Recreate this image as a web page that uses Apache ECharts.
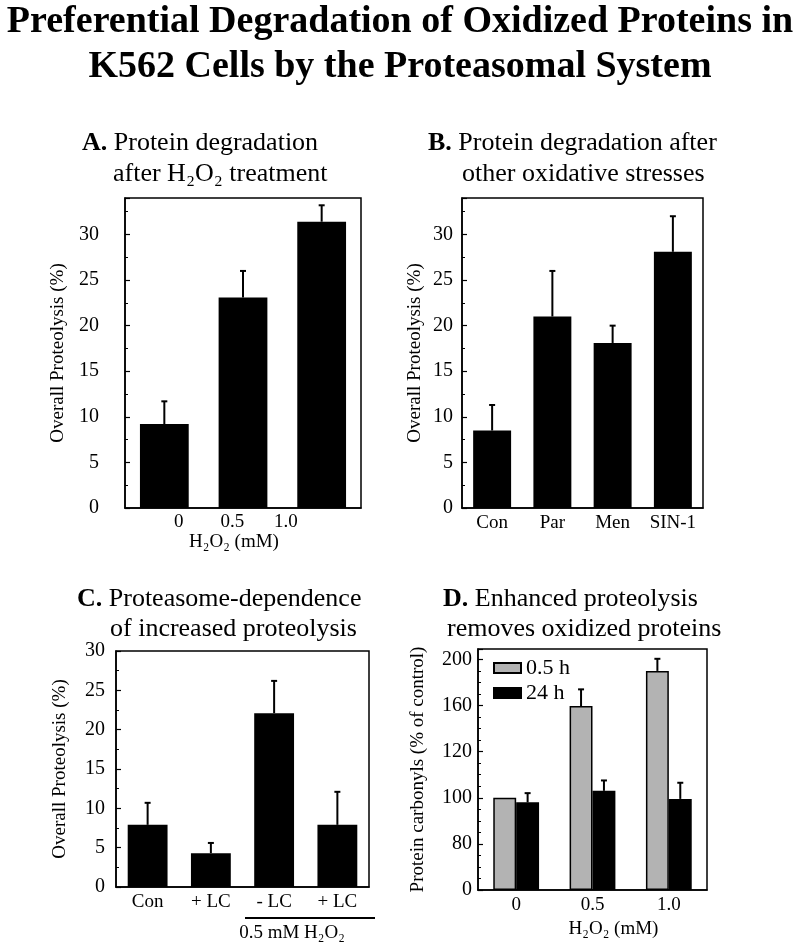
<!DOCTYPE html>
<html><head><meta charset="utf-8">
<script src="https://cdn.jsdelivr.net/npm/echarts@6/dist/echarts.min.js"></script>
<style>html,body{margin:0;padding:0;background:#fff}#c{width:800px;height:949px}</style>
</head><body><div id="c"></div>
<script>
const FONT = '"Liberation Serif", "Times New Roman", serif';

// ---- Panel A: H2O2 treatment ----
const aCategories = ['0', '0.5', '1.0'];
const aValues = [9.2, 23.1, 31.4];
const aErrors = [2.5, 2.9, 1.8];
const aConcTicks = [0, 0.5, 1];
const aConcLabels = ['0', '0.5', '1.0'];
// ---- Panel B: other oxidative stresses ----
const bCategories = ['Con', 'Par', 'Men', 'SIN-1'];
const bValues = [8.5, 21.0, 18.1, 28.1];
const bErrors = [2.8, 5.0, 1.9, 3.9];
// ---- Panel C: proteasome dependence ----
const cCategories = ['Con', '+ LC', '- LC', '+ LC'];
const cValues = [7.9, 4.3, 22.1, 7.9];
const cErrors = [2.8, 1.3, 4.1, 4.2];
// ---- Panel D: protein carbonyls ----
const dCategories = ['0', '0.5', '1.0'];
const dSeriesNames = ['0.5 h', '24 h'];
const dValues05h = [100, 159.5, 190];
const dErrors05h = [0, 14.5, 10.5];
const dValues24h = [98, 103, 99.5];
const dErrors24h = [4, 4.5, 7];
const dTickLabels = [0, 80, 100, 120, 160, 200];

// Panel D's printed axis is piecewise (equally spaced ticks with uneven values)
function dPos(v) {
  const t = dTickLabels;
  for (let i = 0; i < t.length - 1; i++) {
    if (v <= t[i + 1]) return i + (v - t[i]) / (t[i + 1] - t[i]);
  }
  const n = t.length - 1;
  return n + (v - t[n]) / (t[n] - t[n - 1]);
}

function errSeries(xi, yi, bases, tops, offsetFrac) {
  return {
    type: 'custom', xAxisIndex: xi, yAxisIndex: yi, silent: true, z: 5,
    data: bases.map((b, i) => [i, b, tops[i]]),
    renderItem(params, api) {
      const bw = api.size([1, 0])[0];
      const base = api.coord([api.value(0), api.value(1)]);
      const top = api.coord([api.value(0), api.value(2)]);
      const x = base[0] + bw * offsetFrac;
      if (Math.abs(top[1] - base[1]) < 0.5) return null;
      return { type: 'group', children: [
        { type: 'line', shape: { x1: x, y1: base[1], x2: x, y2: top[1] }, style: { stroke: '#000', lineWidth: 2 } },
        { type: 'line', shape: { x1: x - 3, y1: top[1], x2: x + 3, y2: top[1] }, style: { stroke: '#000', lineWidth: 2 } }
      ]};
    }
  };
}

const lab = { fontFamily: FONT, fontSize: 19, color: '#000' };
const tickLab = { fontFamily: FONT, fontSize: 20, color: '#000' };

function yAx(grid, max, interval, minorSplit, name, nameGap, margin, formatter) {
  return {
    type: 'value', gridIndex: grid, min: 0, max: max, interval: interval,
    name: name, nameLocation: 'middle', nameGap: nameGap, nameRotate: 90,
    nameTextStyle: Object.assign({}, lab),
    axisLine: { show: true, onZero: false, lineStyle: { color: '#000', width: 1.5 } },
    axisTick: { show: true, inside: true, length: 5, lineStyle: { color: '#000', width: 1.2 } },
    minorTick: { show: true, splitNumber: minorSplit, length: 3, lineStyle: { color: '#000', width: 1 } },
    splitLine: { show: false }, minorSplitLine: { show: false },
    axisLabel: Object.assign({ margin: margin, formatter: formatter }, tickLab)
  };
}
function xCat(grid, data, showLabel, margin) {
  return {
    type: 'category', gridIndex: grid, data: data,
    axisLine: { show: true, onZero: false, lineStyle: { color: '#000', width: 1.5 } },
    axisTick: { show: false },
    axisLabel: Object.assign({ show: showLabel, margin: margin, interval: 0 }, lab)
  };
}
const fmt5 = v => (Math.abs(v % 5) < 1e-9 ? String(v) : '');

const gridBase = { show: true, borderColor: '#000', borderWidth: 1.5, backgroundColor: 'transparent', containLabel: false, outerBoundsMode: 'none' };

const sub = {
  b: { fontFamily: FONT, fontSize: 26, fontWeight: 'bold', lineHeight: 30, color: '#000' },
  n: { fontFamily: FONT, fontSize: 26, fontWeight: 'normal', lineHeight: 30, color: '#000' }
};
const subPlain = { fontFamily: FONT, fontSize: 26, fontWeight: 'normal', lineHeight: 30, color: '#000' };

const option = {
  animation: false,
  backgroundColor: '#fff',
  title: [
    { text: 'Preferential Degradation of Oxidized Proteins in\nK562 Cells by the Proteasomal System', left: 'center', top: 0, padding: 0,
      textStyle: { fontFamily: FONT, fontSize: 38, fontWeight: 'bold', lineHeight: 45, color: '#000' } },
    { text: '{b|A.}{n| Protein degradation}', left: 82, top: 128, padding: 0, textStyle: { fontWeight: 'normal', rich: sub } },
    { text: 'after H₂O₂ treatment', left: 113, top: 159, padding: 0, textStyle: subPlain },
    { text: '{b|B.}{n| Protein degradation after}', left: 428, top: 128, padding: 0, textStyle: { fontWeight: 'normal', rich: sub } },
    { text: 'other oxidative stresses', left: 462, top: 159, padding: 0, textStyle: subPlain },
    { text: '{b|C.}{n| Proteasome-dependence}', left: 77, top: 584, padding: 0, textStyle: { fontWeight: 'normal', rich: sub } },
    { text: 'of increased proteolysis', left: 110, top: 614, padding: 0, textStyle: subPlain },
    { text: '{b|D.}{n| Enhanced proteolysis}', left: 443, top: 584, padding: 0, textStyle: { fontWeight: 'normal', rich: sub } },
    { text: 'removes oxidized proteins', left: 447, top: 614, padding: 0, textStyle: subPlain }
  ],
  legend: {
    data: dSeriesNames, orient: 'vertical', left: 493, top: 657, padding: 0,
    itemWidth: 27, itemHeight: 10, itemGap: 3, icon: 'rect',
    textStyle: { fontFamily: FONT, fontSize: 22, lineHeight: 22, color: '#000' },
    selectedMode: false
  },
  grid: [
    Object.assign({ left: 125, top: 198, width: 236, height: 310 }, gridBase),
    Object.assign({ left: 462, top: 198, width: 241, height: 310 }, gridBase),
    Object.assign({ left: 116, top: 651, width: 253, height: 236 }, gridBase),
    Object.assign({ left: 478, top: 649, width: 229, height: 241 }, gridBase)
  ],
  xAxis: [
    xCat(0, aCategories, false, 5),
    { type: 'value', gridIndex: 0, position: 'bottom', min: -0.5, max: 1.7, interval: 0.5,
      axisLine: { show: false, onZero: false }, axisTick: { show: false }, splitLine: { show: false },
      axisLabel: Object.assign({ margin: 5, showMinLabel: true, showMaxLabel: false,
        formatter: v => { const i = aConcTicks.findIndex(t => Math.abs(t - v) < 1e-6); return i >= 0 ? aConcLabels[i] : ''; } }, lab),
      name: 'H₂O₂ (mM)', nameLocation: 'middle', nameGap: 25,
      nameTextStyle: Object.assign({ padding: [0, 18, 0, 0] }, lab) },
    xCat(1, bCategories, true, 6),
    xCat(2, cCategories, true, 6),
    Object.assign(xCat(3, dCategories, true, 6), {
      name: 'H₂O₂ (mM)', nameLocation: 'middle', nameGap: 30,
      nameTextStyle: Object.assign({ padding: [0, 0, 0, 42] }, lab) })
  ],
  yAxis: [
    yAx(0, 34, 5, 2, 'Overall Proteolysis (%)', 57, 26, fmt5),
    yAx(1, 34, 5, 2, 'Overall Proteolysis (%)', 37, 9, fmt5),
    yAx(2, 30, 5, 2, 'Overall Proteolysis (%)', 46, 11, fmt5),
    yAx(3, dPos(209), 1, 4, 'Protein carbonyls (% of control)', 50, 6,
      v => (Math.abs(v - Math.round(v)) < 1e-6 && dTickLabels[Math.round(v)] !== undefined) ? String(dTickLabels[Math.round(v)]) : '')
  ],
  graphic: [
    { type: 'line', shape: { x1: 245, y1: 918, x2: 375, y2: 918 }, style: { stroke: '#000', lineWidth: 2 } },
    { type: 'text', x: 292, y: 933, style: { text: '0.5 mM H₂O₂', font: '19px ' + FONT, fill: '#000', align: 'center', verticalAlign: 'middle' } }
  ],
  series: [
    { type: 'bar', xAxisIndex: 0, yAxisIndex: 0, data: aValues, barCategoryGap: '38%', itemStyle: { color: '#000' } },
    errSeries(0, 0, aValues, aValues.map((v, i) => v + aErrors[i]), 0),
    { type: 'bar', xAxisIndex: 2, yAxisIndex: 1, data: bValues, barCategoryGap: '37%', itemStyle: { color: '#000' } },
    errSeries(2, 1, bValues, bValues.map((v, i) => v + bErrors[i]), 0),
    { type: 'bar', xAxisIndex: 3, yAxisIndex: 2, data: cValues, barCategoryGap: '37%', itemStyle: { color: '#000' } },
    errSeries(3, 2, cValues, cValues.map((v, i) => v + cErrors[i]), 0),
    { type: 'bar', name: dSeriesNames[0], xAxisIndex: 4, yAxisIndex: 3, data: dValues05h.map(dPos), barCategoryGap: '40%', barGap: '0%',
      itemStyle: { color: '#b3b3b3', borderColor: '#000', borderWidth: 1.5 } },
    { type: 'bar', name: dSeriesNames[1], xAxisIndex: 4, yAxisIndex: 3, data: dValues24h.map(dPos), barCategoryGap: '40%', barGap: '0%',
      itemStyle: { color: '#000', borderColor: '#000', borderWidth: 1.5 } },
    errSeries(4, 3, dValues05h.map(dPos), dValues05h.map((v, i) => dPos(v + dErrors05h[i])), -0.15),
    errSeries(4, 3, dValues24h.map(dPos), dValues24h.map((v, i) => dPos(v + dErrors24h[i])), 0.15)
  ]
};

const chart = echarts.init(document.getElementById('c'), null, { renderer: 'canvas' });
chart.setOption(option);
</script>
</body></html>
